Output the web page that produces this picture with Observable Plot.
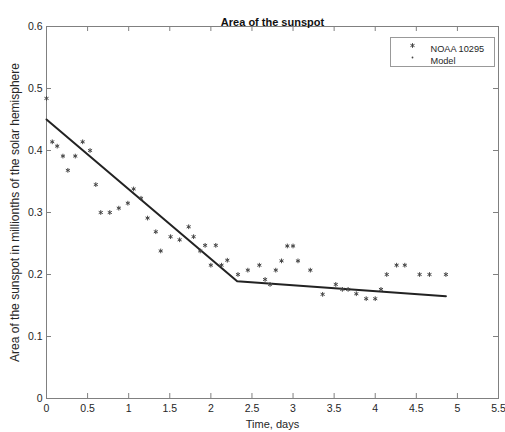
<!DOCTYPE html>
<html>
<head>
<meta charset="utf-8">
<script src="https://cdn.jsdelivr.net/npm/d3@7"></script>
<script src="https://cdn.jsdelivr.net/npm/@observablehq/plot@0.6"></script>
<style>
  html, body { margin: 0; padding: 0; background: #ffffff; }
  #chart { width: 505px; height: 432px; }
</style>
</head>
<body>
<div id="chart"></div>
<script>
const timeDays = [0, 0.07, 0.13, 0.2, 0.26, 0.35, 0.44, 0.53, 0.6, 0.66,
  0.77, 0.88, 0.99, 1.06, 1.15, 1.23, 1.33, 1.39, 1.51, 1.62,
  1.73, 1.79, 1.87, 1.93, 2.0, 2.06, 2.13, 2.2, 2.33, 2.45,
  2.59, 2.66, 2.72, 2.79, 2.86, 2.93, 3.0, 3.06, 3.21, 3.36,
  3.52, 3.6, 3.67, 3.77, 3.89, 4.0, 4.07, 4.14, 4.26, 4.36,
  4.54, 4.66, 4.86];
const areaObserved = [0.484, 0.414, 0.407, 0.391, 0.368, 0.391, 0.414, 0.4, 0.345, 0.3,
  0.3, 0.307, 0.315, 0.338, 0.323, 0.291, 0.269, 0.238, 0.261, 0.256,
  0.277, 0.261, 0.238, 0.247, 0.215, 0.247, 0.215, 0.223, 0.2, 0.207,
  0.215, 0.192, 0.184, 0.207, 0.222, 0.246, 0.246, 0.222, 0.207, 0.168,
  0.184, 0.176, 0.176, 0.169, 0.161, 0.161, 0.176, 0.2, 0.215, 0.215,
  0.2, 0.2, 0.2];
const modelTime = [0, 2.32, 4.86];
const modelArea = [0.45, 0.189, 0.165];
const xTicks = [0, 0.5, 1, 1.5, 2, 2.5, 3, 3.5, 4, 4.5, 5, 5.5];
const yTicks = [0, 0.1, 0.2, 0.3, 0.4, 0.5, 0.6];
const legendLabels = ["NOAA 10295", "Model"];

const obs = timeDays.map((t, i) => ({t, a: areaObserved[i]}));
const model = modelTime.map((t, i) => ({t, a: modelArea[i]}));

const axisColor = "#808080";
const textColor = "#262626";
const W = 505, H = 432, mL = 46, mR = 7, mT = 26, mB = 34;

const plot = Plot.plot({
  width: W, height: H,
  marginLeft: mL, marginRight: mR, marginTop: mT, marginBottom: mB,
  style: {fontFamily: "'Liberation Sans', Arial, sans-serif", fontSize: "10.5px", color: textColor, background: "#fff"},
  x: {domain: [0, 5.5], ticks: xTicks, label: null},
  y: {domain: [0, 0.6], ticks: yTicks, label: null},
  marks: [
    Plot.frame({stroke: axisColor}),
    Plot.axisX(xTicks, {anchor: "bottom", tickSize: 0, tickPadding: 6, tickFormat: d => String(d), fill: textColor, label: null}),
    Plot.axisY(yTicks, {anchor: "left", tickSize: 0, tickPadding: 4, tickFormat: d => String(d), fill: textColor, label: null}),
    Plot.text(["Time, days"], {frameAnchor: "bottom", lineAnchor: "middle", dy: 26, fontSize: 11, fill: textColor}),
    Plot.text(["Area of the sunspot in millionths of the solar hemisphere"], {frameAnchor: "left", textAnchor: "middle", dx: -31, rotate: -90, fontSize: 12, fill: textColor}),
    Plot.ruleX(xTicks, {x: d => d, stroke: axisColor, insetTop: H - mT - mB - 5}),
    Plot.ruleX(xTicks, {x: d => d, stroke: axisColor, insetBottom: H - mT - mB - 5}),
    Plot.ruleY(yTicks, {y: d => d, stroke: axisColor, insetRight: W - mL - mR - 5}),
    Plot.ruleY(yTicks, {y: d => d, stroke: axisColor, insetLeft: W - mL - mR - 5}),
    Plot.line(model, {x: "t", y: "a", stroke: "#222", strokeWidth: 2}),
    Plot.dot(obs, {x: "t", y: "a", symbol: "asterisk", r: 2.2, stroke: "#444", strokeWidth: 1}),
    Plot.text(["Area of the sunspot"], {frameAnchor: "top", dy: -8, fontWeight: "bold", fontSize: 11, fill: "#111"}),
    Plot.dot([legendLabels[0]], {frameAnchor: "top-right", dx: -86, dy: 19, symbol: "asterisk", r: 2.2, stroke: "#444", strokeWidth: 1}),
    Plot.dot([legendLabels[1]], {frameAnchor: "top-right", dx: -86, dy: 31, r: 0.9, fill: "#444"}),
    Plot.text([legendLabels[0]], {frameAnchor: "top-right", dx: -68, dy: 19, textAnchor: "start", fontSize: 9.2, fill: textColor}),
    Plot.text([legendLabels[1]], {frameAnchor: "top-right", dx: -68, dy: 31, textAnchor: "start", fontSize: 9.2, fill: textColor})
  ]
});

const svg = d3.select(plot);
svg.append("rect")
  .attr("x", 390.5).attr("y", 37.5).attr("width", 104).attr("height", 29)
  .attr("fill", "none").attr("stroke", "#999").attr("stroke-width", 1);

document.getElementById("chart").appendChild(plot);
</script>
</body>
</html>
